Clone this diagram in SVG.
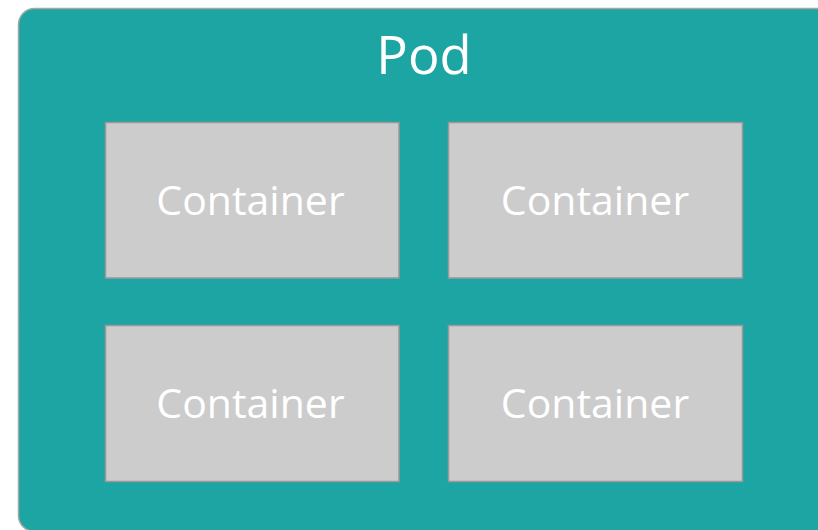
<svg xmlns="http://www.w3.org/2000/svg" width="818" height="530" viewBox="0 0 818 530">
<style>
.pod{fill:#1ca5a2;stroke:#a6a6a6;stroke-width:1.5}
.box{fill:#cccccc;stroke:#999999;stroke-width:1.5}
.t{font-family:"Open Sans","DejaVu Sans",sans-serif;fill:#ffffff;text-anchor:middle}
.ct{font-size:41px}
.pt{font-size:52.5px}
</style>
<rect width="818" height="530" fill="#ffffff"/>
<g id="pod">
<rect class="pod" x="18.5" y="8.5" width="830" height="523" rx="16" ry="16"/>
<text class="t pt" x="424" y="74">Pod</text>
</g>
<g id="container1">
<rect class="box" x="105.5" y="122.5" width="293.5" height="155.5"/>
<text class="t ct" x="250.5" y="214.5">Container</text>
</g>
<g id="container2">
<rect class="box" x="448.5" y="122.5" width="294" height="155.5"/>
<text class="t ct" x="595" y="214.5">Container</text>
</g>
<g id="container3">
<rect class="box" x="105.5" y="325.5" width="293.5" height="156"/>
<text class="t ct" x="250.5" y="417.5">Container</text>
</g>
<g id="container4">
<rect class="box" x="448.5" y="325.5" width="294" height="156"/>
<text class="t ct" x="595" y="417.5">Container</text>
</g>
<g id="connectors"/>
</svg>
